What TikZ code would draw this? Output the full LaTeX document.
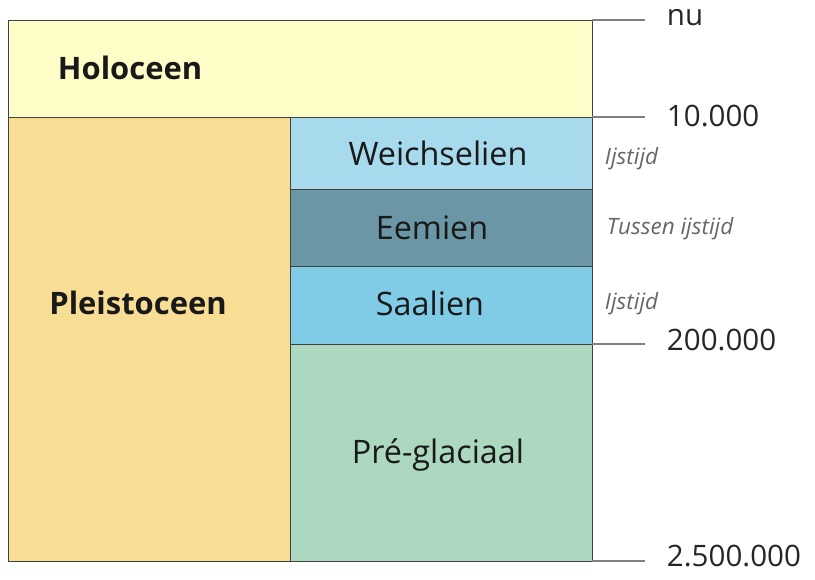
\documentclass[tikz,border=0pt]{standalone}
\usepackage{fontspec}
\setmainfont{Open Sans}
\usetikzlibrary{positioning}
\definecolor{holocol}{HTML}{FFFDC8}
\definecolor{pleistocol}{HTML}{F8DD95}
\definecolor{weichcol}{HTML}{A6DAEC}
\definecolor{eemcol}{HTML}{6B96A5}
\definecolor{saalcol}{HTML}{80CBE6}
\definecolor{precol}{HTML}{ADD8C0}
\begin{document}
\begin{tikzpicture}[x=0.025cm,y=-0.025cm]
	\tikzstyle{layer} = [draw=black!75, line width=0.7pt]
	\tikzstyle{era} = [font=\fontsize{23}{26}\selectfont, text=black!90]
	\tikzstyle{bigera} = [font=\fontsize{22}{26}\selectfont\bfseries, text=black!90]
	\tikzstyle{note} = [font=\fontsize{16}{18}\selectfont\itshape, text=black!60, anchor=west]
	\tikzstyle{age} = [font=\fontsize{21}{23}\selectfont, text=black!85, anchor=west]
	\tikzstyle{tick} = [draw=black!50, line width=1pt]
	\useasboundingbox (0,0) rectangle (815,579);
	% layers
	\filldraw [layer, fill=holocol] (8,20) rectangle (592,117);
	\filldraw [layer, fill=pleistocol] (8,117) rectangle (290,561);
	\filldraw [layer, fill=weichcol] (290,117) rectangle (592,189);
	\filldraw [layer, fill=eemcol] (290,189) rectangle (592,266);
	\filldraw [layer, fill=saalcol] (290,266) rectangle (592,344);
	\filldraw [layer, fill=precol] (290,344) rectangle (592,561);
	% names
	\node [bigera, anchor=west](holoceen) at (53,68) {Holoceen};
	\node [bigera](pleistoceen) at (138,303) {Pleistoceen};
	\node [era](weichselien) at (438,153) {Weichselien};
	\node [era](eemien) at (432,228) {Eemien};
	\node [era](saalien) at (430,303) {Saalien};
	\node [era](preglaciaal) at (438,455) {Pré-glaciaal};
	% notes
	\node [note](ijs1) at (600,159) {Ijstijd};
	\node [note](tussen) at (602,229) {Tussen ijstijd};
	\node [note](ijs2) at (600,304) {Ijstijd};
	% ages
	\node [age](nu) at (662,18) {nu};
	\node [age](age10k) at (662,116) {10.000};
	\node [age](age200k) at (662,340) {200.000};
	\node [age](age2m) at (662,556) {2.500.000};
	\coordinate (t1) at (645,20);
	\coordinate (t2) at (645,117);
	\coordinate (t3) at (645,344);
	\coordinate (t4) at (645,561);
	\draw [tick] (592,20) -- (t1);
	\draw [tick] (592,117) -- (t2);
	\draw [tick] (592,344) -- (t3);
	\draw [tick] (592,561) -- (t4);
\end{tikzpicture}
\end{document}
